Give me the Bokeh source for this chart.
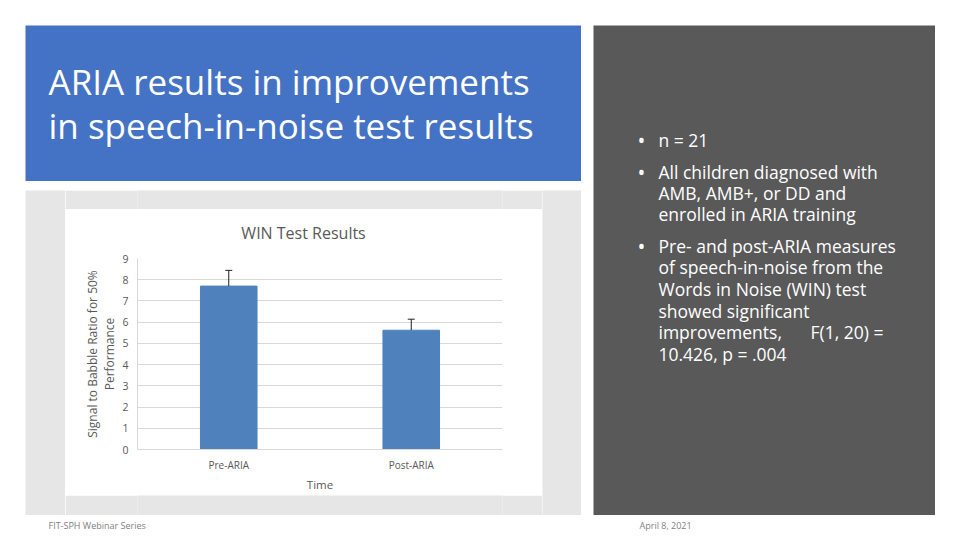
from bokeh.plotting import figure
from bokeh.models import Range1d, FactorRange, Whisker, ColumnDataSource, TeeHead, Spacer, FixedTicker
from bokeh.layouts import row, column
from bokeh.embed import file_html
from bokeh.resources import INLINE
from bokeh.core.properties import value

# ---------------- data ----------------
categories = ["Pre-ARIA", "Post-ARIA"]
means = [7.70, 5.62]
errors = [0.74, 0.52]
y_ticks = [0, 1, 2, 3, 4, 5, 6, 7, 8, 9]

chart_title = "WIN Test Results"
y_label = "Signal to Babble Ratio for 50%\nPerformance"
x_label = "Time"

slide_title = ["ARIA results in improvements", "in speech-in-noise test results"]
bullet1 = ["n = 21"]
bullet2 = ["All children diagnosed with", "AMB, AMB+, or DD and", "enrolled in ARIA training"]
bullet3 = ["Pre- and post-ARIA measures", "of speech-in-noise from the",
           "Words in Noise (WIN) test", "showed significant", "improvements,", "10.426, p = .004"]
bullet3_extra = "F(1, 20) ="
footer_left = "FIT-SPH Webinar Series"
footer_right = "April 8, 2021"

FONT = "Open Sans"
BLUE = "#4472C4"
LIGHT = "#E6E6E6"
DARK = "#595959"
BAR = "#4F81BD"
TXT = "#595959"


def block(w, h, color):
    p = figure(width=w, height=h, x_range=Range1d(0, w), y_range=Range1d(h, 0),
               output_backend="svg", toolbar_location=None, tools="", min_border=0,
               background_fill_color=color, border_fill_color=color,
               outline_line_color=None, x_axis_location=None, y_axis_location=None)
    p.grid.visible = False
    return p


# ---------------- title block ----------------
title_fig = block(556, 156, BLUE)
title_fig.text(x=[23, 23], y=[56, 100], text=slide_title, text_font=value(FONT),
               text_font_size="35px", text_color="white", text_baseline="middle")

# ---------------- right panel ----------------
right_fig = block(342, 490, DARK)
lines = bullet1 + bullet2 + bullet3
ys = [y - 7 for y in [121, 153, 174, 195, 227, 248, 270, 292, 313, 335]]
right_fig.text(x=[65] * len(lines), y=ys, text=lines, text_font=value(FONT),
               text_font_size="17.5px", text_color="white", text_baseline="middle")
right_fig.text(x=[217], y=[ys[8]], text=[bullet3_extra], text_font=value(FONT),
               text_font_size="17.5px", text_color="white", text_baseline="middle")
right_fig.text(x=[44, 44, 44], y=[ys[0], ys[1], ys[4]], text=["\u2022"] * 3, text_font=value(FONT),
               text_font_size="21px", text_color="white", text_baseline="middle")

# ---------------- chart title strip ----------------
# (its frame is aligned by the column to the chart's frame)
chart_head = block(477, 39, "white")
chart_head.text(x=[217], y=[23], text=[chart_title], text_font=value(FONT),
                text_font_size="16px", text_color=TXT, text_baseline="middle", text_align="center")

# ---------------- chart ----------------
chart = figure(width=477, height=247, x_range=FactorRange(factors=categories, range_padding=0),
               y_range=Range1d(0, 9), output_backend="svg", toolbar_location=None, tools="",
               min_border_left=72, min_border_right=40, min_border_top=10, min_border_bottom=46,
               background_fill_color="white", border_fill_color="white", outline_line_color=None)
chart.vbar(x=categories, top=means, width=0.31, color=BAR)
src = ColumnDataSource(dict(x=categories, lower=means,
                            upper=[m + e for m, e in zip(means, errors)]))
chart.add_layout(Whisker(source=src, base="x", lower="lower", upper="upper", dimension="height",
                         line_color="#222222", line_width=1, level="overlay",
                         upper_head=TeeHead(size=7, line_color="#222222", line_width=1),
                         lower_head=None))

chart.yaxis.ticker = FixedTicker(ticks=y_ticks)
chart.yaxis.axis_label = y_label
chart.xaxis.axis_label = x_label
for ax in (chart.xaxis, chart.yaxis):
    ax.axis_line_color = "#D9D9D9"
    ax.major_tick_line_color = None
    ax.minor_tick_line_color = None
    ax.major_label_text_font = FONT
    ax.major_label_text_color = TXT
    ax.axis_label_text_font = FONT
    ax.axis_label_text_font_style = "normal"
    ax.axis_label_text_color = TXT
chart.yaxis.major_label_text_font_size = "10.5px"
chart.xaxis.major_label_text_font_size = "10px"
chart.yaxis.axis_label_text_font_size = "12px"
chart.yaxis.axis_label_text_line_height = 1.0
chart.xaxis.axis_label_text_font_size = "11.5px"
chart.yaxis.major_label_standoff = 3
chart.yaxis.axis_label_standoff = 1
chart.xaxis.major_label_standoff = 2
chart.xaxis.axis_label_standoff = 2
chart.xgrid.visible = False
chart.ygrid.grid_line_color = "#D9D9D9"

# ---------------- assemble ----------------
chart_panel = row(block(40, 325, LIGHT),
                  column(block(477, 19, LIGHT), chart_head, chart, block(477, 20, LIGHT)),
                  block(39, 325, LIGHT))
left_col = column(title_fig, Spacer(width=556, height=9), chart_panel)
mid = row(Spacer(width=25, height=490), left_col, Spacer(width=12, height=490), right_fig,
          Spacer(width=24, height=490))

footer = block(959, 24, "white")
footer.text(x=[48, 639], y=[10, 10], text=[footer_left, footer_right], text_font=value(FONT),
            text_font_size="9px", text_color="#7F7F7F", text_baseline="middle")

page = column(Spacer(width=959, height=25), mid, footer)

open("out.html", "w").write(file_html(page, INLINE))
